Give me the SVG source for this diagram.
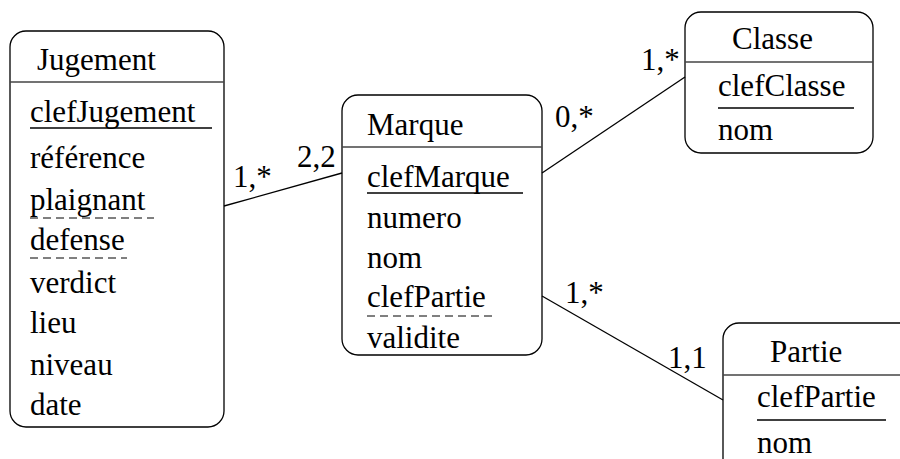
<svg xmlns="http://www.w3.org/2000/svg" width="900" height="459" viewBox="0 0 900 459">
<style>
.box{fill:#fff;stroke:#000;stroke-width:1.3}
.sep{stroke:#444;stroke-width:1.3}
.ul{stroke:#000;stroke-width:1.3}
.dul{stroke:#000;stroke-width:1;stroke-dasharray:8,5}
text{font-family:"Liberation Serif","Times New Roman",serif;font-size:31px;fill:#000}
.conn line{stroke:#000;stroke-width:1.3}
</style>
<rect width="900" height="459" fill="#fff"/>
<g id="Jugement">
<rect class="box" x="10" y="31" width="214" height="396" rx="16"/>
<line class="sep" x1="10" y1="82" x2="224" y2="82"/>
<text x="37" y="70">Jugement</text>
<text x="30" y="122">clefJugement</text>
<line class="ul" x1="30" y1="128" x2="212" y2="128"/>
<text x="30" y="168">référence</text>
<text x="30" y="210">plaignant</text>
<line class="dul" x1="30" y1="218" x2="154" y2="218"/>
<text x="30" y="250">defense</text>
<line class="dul" x1="30" y1="258" x2="127" y2="258"/>
<text x="30" y="293">verdict</text>
<text x="30" y="333">lieu</text>
<text x="30" y="375">niveau</text>
<text x="30" y="415">date</text>
</g>
<g id="Marque">
<rect class="box" x="342" y="95" width="200" height="260" rx="16"/>
<line class="sep" x1="342" y1="147" x2="542" y2="147"/>
<text x="367" y="135">Marque</text>
<text x="367" y="187">clefMarque</text>
<line class="ul" x1="367" y1="193" x2="523" y2="193"/>
<text x="367" y="228">numero</text>
<text x="367" y="268">nom</text>
<text x="367" y="307">clefPartie</text>
<line class="dul" x1="367" y1="316" x2="497" y2="316"/>
<text x="367" y="348">validite</text>
</g>
<g id="Classe">
<rect class="box" x="685" y="12" width="188" height="141" rx="16"/>
<line class="sep" x1="685" y1="62" x2="873" y2="62"/>
<text x="732" y="49">Classe</text>
<text x="718" y="96">clefClasse</text>
<line class="ul" x1="718" y1="108" x2="854" y2="108"/>
<text x="718" y="140">nom</text>
</g>
<g id="Partie">
<rect class="box" x="723" y="323" width="220" height="180" rx="16"/>
<line class="sep" x1="723" y1="375" x2="900" y2="375"/>
<text x="770" y="362">Partie</text>
<text x="757" y="407">clefPartie</text>
<line class="ul" x1="757" y1="420" x2="886" y2="420"/>
<text x="757" y="453">nom</text>
</g>
<g id="connectors" class="conn">
<line x1="224" y1="206" x2="342" y2="173"/>
<line x1="542" y1="173" x2="685" y2="77"/>
<line x1="542" y1="296" x2="723" y2="400"/>
<text x="233" y="187">1,*</text>
<text x="297" y="167">2,2</text>
<text x="555" y="127">0,*</text>
<text x="641" y="70">1,*</text>
<text x="565" y="303">1,*</text>
<text x="668" y="368">1,1</text>
</g>
</svg>
